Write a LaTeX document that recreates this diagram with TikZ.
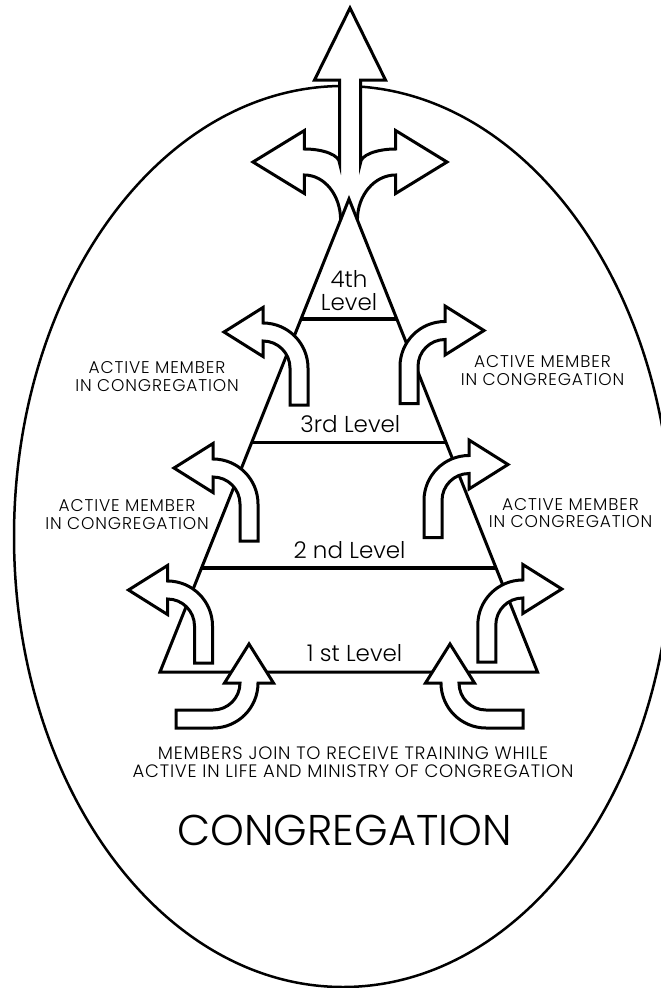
\documentclass[tikz,border=0pt]{standalone}
\usepackage{fontspec}
\setmainfont{Poppins Light}
\usetikzlibrary{calc}
\newcommand\bentarrowpath{(27,37) -- (27,0) arc[start angle=0, end angle=-90, radius=27] -- (0,-11.5) -- (-39,-36) -- (0,-60.5) -- (0,-45) arc[start angle=-90, end angle=0, radius=45] -- (45,37) -- cycle}
\begin{document}
\begin{tikzpicture}[x=1pt,y=-1pt,
  barrow/.style={draw=black, fill=white, line width=3pt, line join=miter},
  triline/.style={draw=black, line width=3pt, line join=miter},
  lvlline/.style={draw=black, line width=3.5pt},
  lvltext/.style={font=\fontsize{23}{23}\selectfont, anchor=base, inner sep=0pt},
  sidetext/.style={font=\fontsize{17}{17}\selectfont\addfontfeature{LetterSpace=5}, anchor=base, inner sep=0pt},
  bottext/.style={font=\fontsize{18}{18}\selectfont\addfontfeature{LetterSpace=4.5}, anchor=base, inner sep=0pt},
  bigtext/.style={font=\fontsize{43}{43}\selectfont, anchor=base, inner sep=0pt}]
\useasboundingbox (0,0) rectangle (661,988);
\clip (0,0) rectangle (661,988);
% outer ellipse
\draw[line width=2.5pt] (343,536.5) ellipse[x radius=329, y radius=450.5];
% top three-way arrow
\draw[barrow] (340.6,220) .. controls (340.6,195.1) and (324.4,175) .. (304.4,175)
  -- (304.4,193.5) -- (253,162) -- (304.4,130.5) -- (304.4,149)
  .. controls (323.8,149) and (339.5,155.3) .. (339.5,163)
  -- (339.5,80) -- (314.5,80) -- (350,8) -- (385.5,80) -- (360.5,80) -- (360.5,163)
  .. controls (360.5,155.3) and (376.2,149) .. (395.6,149)
  -- (395.6,130.5) -- (447,162) -- (395.6,193.5) -- (395.6,175)
  .. controls (374.5,175) and (357.4,195.1) .. (357.4,220);
% triangle
\coordinate (apex) at (349,199);
\coordinate (bl) at (160,672);
\coordinate (br) at (537.5,672);
\draw[triline] (apex) -- (bl) -- (br) -- cycle;
\draw[lvlline] ($(apex)!0.2537!(bl)$) -- ($(apex)!0.2537!(br)$);
\draw[lvlline] ($(apex)!0.5152!(bl)$) -- ($(apex)!0.5152!(br)$);
\draw[lvlline] ($(apex)!0.7801!(bl)$) -- ($(apex)!0.7801!(br)$);
% bent arrows
\begin{scope}[shift={(263,368)}] \draw[barrow] \bentarrowpath; \end{scope}
\begin{scope}[shift={(445,366.5)}, xscale=-1] \draw[barrow] \bentarrowpath; \end{scope}
\begin{scope}[shift={(213,504)}] \draw[barrow] \bentarrowpath; \end{scope}
\begin{scope}[shift={(469,500.5)}, xscale=-1] \draw[barrow] \bentarrowpath; \end{scope}
\begin{scope}[shift={(167.5,626)}] \draw[barrow] \bentarrowpath; \end{scope}
\begin{scope}[shift={(522.8,625)}, xscale=-1] \draw[barrow] \bentarrowpath; \end{scope}
\begin{scope}[shift={(213,683)}, rotate=-90] \draw[barrow] \bentarrowpath; \end{scope}
\begin{scope}[shift={(486,683)}, xscale=-1, rotate=-90] \draw[barrow] \bentarrowpath; \end{scope}
% level labels
\node[lvltext] (l4a) at (349,287.3) {4th};
\node[lvltext] (l4b) at (349,310.7) {Level};
\node[lvltext] (l3) at (350.3,432.7) {3rd Level};
\node[lvltext] (l2) at (349.5,558.3) {2 nd Level};
\node[lvltext] (l1) at (354.5,661) {1 st Level};
% side labels
\node[sidetext] (ula) at (157,373.3) {ACTIVE MEMBER};
\node[sidetext] (ulb) at (157,391) {IN CONGREGATION};
\node[sidetext] (ura) at (542.5,367.3) {ACTIVE MEMBER};
\node[sidetext] (urb) at (542.5,385) {IN CONGREGATION};
\node[sidetext] (mla) at (127,511.7) {ACTIVE MEMBER};
\node[sidetext] (mlb) at (127,529.3) {IN CONGREGATION};
\node[sidetext] (mra) at (570.5,510) {ACTIVE MEMBER};
\node[sidetext] (mrb) at (570.5,527.3) {IN CONGREGATION};
% bottom labels
\node[bottext] (ba) at (353,759.3) {MEMBERS JOIN TO RECEIVE TRAINING WHILE};
\node[bottext] (bb) at (353,777.3) {ACTIVE IN LIFE AND MINISTRY OF CONGREGATION};
\node[bigtext] (cong) at (344.5,845) {CONGREGATION};
\end{tikzpicture}
\end{document}
